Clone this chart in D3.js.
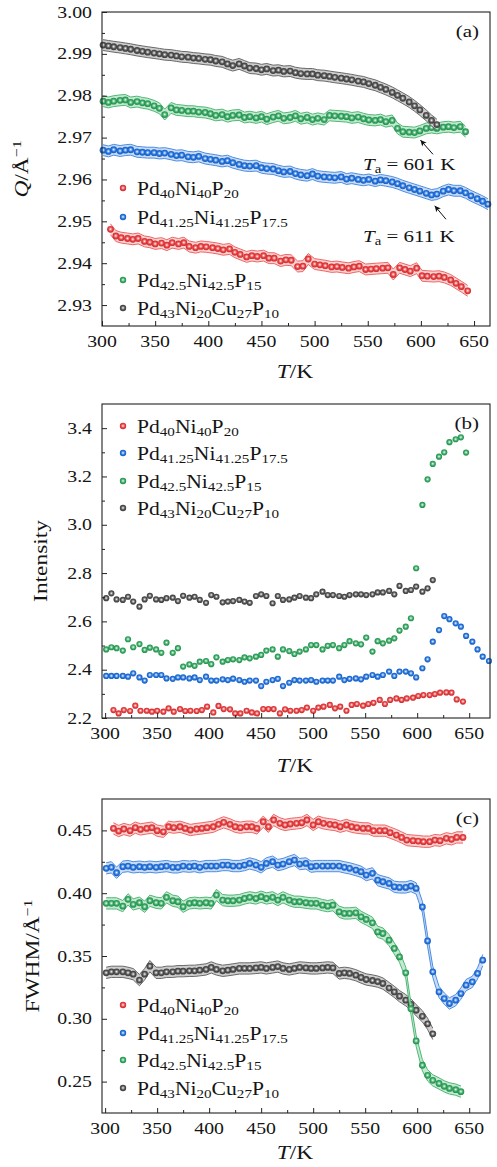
<!DOCTYPE html>
<html>
<head>
<meta charset="utf-8">
<script src="https://cdnjs.cloudflare.com/ajax/libs/d3/7.8.5/d3.min.js"></script>
<style>
  body { margin: 0; background: #fff; }
  text { font-family: "Liberation Serif", "Times New Roman", serif; fill: #141414; }
</style>
</head>
<body>
<div id="chart"></div>
<script>
// temperature grids (K): one shared grid for three alloys, one for Pd40Ni40P20
var temps = [301, 306, 311, 317, 322, 327, 333, 338, 343, 349, 354, 359, 365, 370, 375, 381, 386, 391, 397, 402,
  407, 413, 418, 423, 429, 434, 439, 445, 450, 455, 461, 466, 471, 477, 482, 487, 493, 498, 503, 509,
  514, 519, 525, 530, 535, 541, 546, 551, 557, 562, 567, 573, 578, 583, 589, 594, 599, 605, 610, 615,
  621, 626, 631, 637, 642, 647, 653, 658, 663, 669];
var tempsRed = [308, 313, 318, 324, 329, 334, 340, 345, 350, 356, 361, 366, 372, 377, 382, 388, 393, 398, 404, 409,
  414, 420, 425, 430, 436, 441, 446, 452, 457, 462, 468, 473, 478, 484, 489, 494, 500, 505, 510, 516,
  521, 526, 532, 537, 542, 548, 553, 558, 564, 569, 574, 580, 585, 590, 596, 601, 606, 612, 617, 622,
  628, 633, 638, 644];

// (a) peak position Q
var qRed = [2.9481, 2.9465, 2.9461, 2.9459, 2.9457, 2.9459, 2.9452, 2.9450, 2.9446, 2.9448,
  2.9443, 2.9449, 2.9446, 2.9449, 2.9440, 2.9437, 2.9440, 2.9439, 2.9437, 2.9435,
  2.9432, 2.9434, 2.9426, 2.9421, 2.9415, 2.9418, 2.9416, 2.9418, 2.9412, 2.9412,
  2.9405, 2.9408, 2.9407, 2.9392, 2.9393, 2.9410, 2.9398, 2.9396, 2.9394, 2.9391,
  2.9392, 2.9390, 2.9388, 2.9391, 2.9393, 2.9385, 2.9386, 2.9387, 2.9388, 2.9389,
  2.9373, 2.9389, 2.9385, 2.9381, 2.9388, 2.9370, 2.9369, 2.9368, 2.9369, 2.9366,
  2.9360, 2.9352, 2.9344, 2.9334];
var qBlue = [2.9670, 2.9667, 2.9671, 2.9668, 2.9670, 2.9671, 2.9666, 2.9665, 2.9664, 2.9664,
  2.9662, 2.9663, 2.9660, 2.9657, 2.9658, 2.9654, 2.9653, 2.9655, 2.9650, 2.9648,
  2.9646, 2.9643, 2.9645, 2.9640, 2.9636, 2.9633, 2.9632, 2.9633, 2.9628, 2.9626,
  2.9625, 2.9621, 2.9618, 2.9619, 2.9614, 2.9611, 2.9609, 2.9613, 2.9608, 2.9606,
  2.9605, 2.9604, 2.9606, 2.9601, 2.9603, 2.9600, 2.9598, 2.9600, 2.9596, 2.9599,
  2.9597, 2.9594, 2.9590, 2.9585, 2.9580, 2.9576, 2.9572, 2.9567, 2.9563, 2.9565,
  2.9572, 2.9576, 2.9573, 2.9573, 2.9568, 2.9561, 2.9554, 2.9548, 2.9541];
var qGreen = [2.9787, 2.9784, 2.9787, 2.9789, 2.9790, 2.9784, 2.9786, 2.9783, 2.9781, 2.9776,
  2.9770, 2.9755, 2.9771, 2.9766, 2.9765, 2.9763, 2.9763, 2.9761, 2.9760, 2.9757,
  2.9753, 2.9755, 2.9750, 2.9753, 2.9754, 2.9748, 2.9750, 2.9747, 2.9750, 2.9744,
  2.9749, 2.9752, 2.9746, 2.9748, 2.9752, 2.9745, 2.9748, 2.9743, 2.9746, 2.9743,
  2.9753, 2.9752, 2.9751, 2.9750, 2.9747, 2.9749, 2.9745, 2.9742, 2.9741, 2.9743,
  2.9738, 2.9741, 2.9722, 2.9714, 2.9713, 2.9712, 2.9716, 2.9722, 2.9724, 2.9722,
  2.9725, 2.9726, 2.9724, 2.9726, 2.9714];
var qGray = [2.9921, 2.9919, 2.9917, 2.9915, 2.9913, 2.9911, 2.9908, 2.9906, 2.9904, 2.9902,
  2.9900, 2.9898, 2.9897, 2.9895, 2.9893, 2.9892, 2.9890, 2.9889, 2.9887, 2.9886,
  2.9883, 2.9881, 2.9876, 2.9872, 2.9876, 2.9871, 2.9866, 2.9865, 2.9862, 2.9864,
  2.9860, 2.9861, 2.9858, 2.9859, 2.9855, 2.9853, 2.9852, 2.9852, 2.9849, 2.9848,
  2.9846, 2.9844, 2.9842, 2.9840, 2.9838, 2.9835, 2.9833, 2.9829, 2.9825, 2.9820,
  2.9815, 2.9808, 2.9801, 2.9794, 2.9785, 2.9776, 2.9766, 2.9753, 2.9741, 2.9731];

// (b) peak intensity
var intRed = [2.233, 2.219, 2.233, 2.229, 2.251, 2.230, 2.230, 2.226, 2.230, 2.226,
  2.240, 2.226, 2.237, 2.229, 2.230, 2.229, 2.233, 2.247, 2.223, 2.250,
  2.237, 2.236, 2.219, 2.219, 2.230, 2.223, 2.219, 2.237, 2.237, 2.237,
  2.219, 2.236, 2.230, 2.230, 2.233, 2.243, 2.230, 2.243, 2.247, 2.254,
  2.240, 2.247, 2.230, 2.254, 2.258, 2.251, 2.258, 2.263, 2.275, 2.258,
  2.275, 2.281, 2.275, 2.281, 2.284, 2.291, 2.295, 2.295, 2.299, 2.305,
  2.306, 2.305, 2.277, 2.268];
var intBlue = [2.374, 2.374, 2.374, 2.374, 2.371, 2.385, 2.368, 2.355, 2.378, 2.378,
  2.378, 2.364, 2.362, 2.368, 2.368, 2.364, 2.368, 2.357, 2.371, 2.355,
  2.355, 2.360, 2.357, 2.363, 2.357, 2.350, 2.355, 2.355, 2.332, 2.350,
  2.357, 2.362, 2.332, 2.346, 2.357, 2.355, 2.355, 2.357, 2.350, 2.355,
  2.355, 2.355, 2.371, 2.357, 2.362, 2.364, 2.360, 2.371, 2.378, 2.371,
  2.378, 2.392, 2.374, 2.392, 2.392, 2.385, 2.368, 2.406, 2.443, 2.516,
  2.564, 2.622, 2.609, 2.592, 2.578, 2.540, 2.516, 2.484, 2.454, 2.436];
var intGreen = [2.484, 2.493, 2.489, 2.479, 2.526, 2.493, 2.506, 2.482, 2.491, 2.484,
  2.470, 2.512, 2.470, 2.489, 2.413, 2.422, 2.416, 2.433, 2.436, 2.423,
  2.451, 2.433, 2.440, 2.443, 2.440, 2.451, 2.447, 2.454, 2.461, 2.479,
  2.484, 2.454, 2.484, 2.477, 2.465, 2.475, 2.484, 2.502, 2.502, 2.484,
  2.499, 2.502, 2.489, 2.502, 2.518, 2.509, 2.505, 2.533, 2.475, 2.518,
  2.509, 2.520, 2.530, 2.562, 2.578, 2.613, 2.820, 3.082, 3.188, 3.252,
  3.282, 3.300, 3.342, 3.354, 3.362, 3.299];
var intGray = [2.696, 2.716, 2.691, 2.689, 2.702, 2.682, 2.661, 2.691, 2.706, 2.691,
  2.689, 2.696, 2.698, 2.684, 2.706, 2.698, 2.702, 2.689, 2.677, 2.709,
  2.702, 2.679, 2.682, 2.684, 2.689, 2.682, 2.677, 2.705, 2.712, 2.705,
  2.675, 2.705, 2.689, 2.691, 2.698, 2.705, 2.698, 2.696, 2.712, 2.723,
  2.709, 2.709, 2.705, 2.702, 2.709, 2.712, 2.712, 2.709, 2.712, 2.720,
  2.720, 2.726, 2.712, 2.747, 2.726, 2.730, 2.744, 2.723, 2.737, 2.771];

// (c) FWHM
var fwRed = [0.4516, 0.4495, 0.4511, 0.4498, 0.4522, 0.4508, 0.4516, 0.4522, 0.4498, 0.4489,
  0.4529, 0.4522, 0.4529, 0.4516, 0.4503, 0.4511, 0.4516, 0.4522, 0.4529, 0.4548,
  0.4564, 0.4548, 0.4529, 0.4522, 0.4529, 0.4529, 0.4516, 0.4569, 0.4529, 0.4583,
  0.4556, 0.4543, 0.4551, 0.4556, 0.4561, 0.4583, 0.4543, 0.4569, 0.4556, 0.4548,
  0.4543, 0.4529, 0.4543, 0.4529, 0.4522, 0.4516, 0.4516, 0.4498, 0.4498, 0.4498,
  0.4482, 0.4463, 0.4444, 0.4423, 0.4418, 0.4415, 0.4410, 0.4410, 0.4423, 0.4418,
  0.4437, 0.4429, 0.4444, 0.4444];
var fwBlue = [0.4198, 0.4206, 0.4163, 0.4211, 0.4216, 0.4206, 0.4211, 0.4206, 0.4211, 0.4206,
  0.4211, 0.4216, 0.4206, 0.4206, 0.4216, 0.4211, 0.4216, 0.4206, 0.4216, 0.4216,
  0.4216, 0.4224, 0.4224, 0.4216, 0.4216, 0.4224, 0.4237, 0.4224, 0.4206, 0.4237,
  0.4251, 0.4224, 0.4232, 0.4251, 0.4264, 0.4232, 0.4237, 0.4211, 0.4216, 0.4216,
  0.4216, 0.4216, 0.4216, 0.4206, 0.4198, 0.4184, 0.4171, 0.4144, 0.4158, 0.4104,
  0.4091, 0.4078, 0.4051, 0.4046, 0.4046, 0.4057, 0.4038, 0.3890, 0.3620, 0.3374,
  0.3214, 0.3161, 0.3122, 0.3148, 0.3201, 0.3268, 0.3294, 0.3361, 0.3467];
var fwGreen = [0.3919, 0.3919, 0.3919, 0.3897, 0.3951, 0.3911, 0.3924, 0.3892, 0.3940, 0.3924,
  0.3919, 0.3967, 0.3940, 0.3932, 0.3892, 0.3919, 0.3924, 0.3919, 0.3924, 0.3919,
  0.3985, 0.3945, 0.3940, 0.3940, 0.3945, 0.3958, 0.3967, 0.3958, 0.3972, 0.3958,
  0.3967, 0.3945, 0.3967, 0.3945, 0.3932, 0.3932, 0.3924, 0.3919, 0.3919, 0.3905,
  0.3897, 0.3905, 0.3852, 0.3839, 0.3839, 0.3844, 0.3812, 0.3791, 0.3764, 0.3692,
  0.3679, 0.3626, 0.3560, 0.3493, 0.3366, 0.3080, 0.2824, 0.2630, 0.2550, 0.2510,
  0.2485, 0.2462, 0.2446, 0.2436, 0.2420];
var fwGray = [0.3366, 0.3374, 0.3374, 0.3374, 0.3366, 0.3355, 0.3308, 0.3355, 0.3419, 0.3366,
  0.3366, 0.3374, 0.3374, 0.3379, 0.3379, 0.3382, 0.3382, 0.3387, 0.3393, 0.3409,
  0.3393, 0.3382, 0.3387, 0.3393, 0.3401, 0.3401, 0.3401, 0.3405, 0.3409, 0.3401,
  0.3409, 0.3416, 0.3401, 0.3393, 0.3401, 0.3409, 0.3405, 0.3401, 0.3401, 0.3405,
  0.3409, 0.3405, 0.3361, 0.3366, 0.3361, 0.3347, 0.3329, 0.3313, 0.3305, 0.3296,
  0.3281, 0.3245, 0.3214, 0.3180, 0.3148, 0.3114, 0.3068, 0.3020, 0.2960, 0.2880];

// ticks
var xTicks = [300, 350, 400, 450, 500, 550, 600, 650];
var xMinor = [325, 375, 425, 475, 525, 575, 625];
var yTicksA = [2.93, 2.94, 2.95, 2.96, 2.97, 2.98, 2.99, 3.00];
var yTicksB = [2.2, 2.4, 2.6, 2.8, 3.0, 3.2, 3.4];
var yTicksC = [0.25, 0.30, 0.35, 0.40, 0.45];

// legend names: [text, "sub"] pieces
var names = {
  red:   [["Pd"], ["40", "sub"], ["Ni"], ["40", "sub"], ["P"], ["20", "sub"]],
  blue:  [["Pd"], ["41.25", "sub"], ["Ni"], ["41.25", "sub"], ["P"], ["17.5", "sub"]],
  green: [["Pd"], ["42.5", "sub"], ["Ni"], ["42.5", "sub"], ["P"], ["15", "sub"]],
  gray:  [["Pd"], ["43", "sub"], ["Ni"], ["20", "sub"], ["Cu"], ["27", "sub"], ["P"], ["10", "sub"]]
};
var legendOrder = ["red", "blue", "green", "gray"];

var width = 497, height = 1167;
var left = 102, right = 490;
var sx = 1.2;   // the figure's text is wider than Times, stretch it a bit

var colors   = { red: "#e8393b", blue: "#1e6fdc", green: "#2ea55c", gray: "#4c4c4c" };
var bandFill = { red: "#fbd2d1", blue: "#c9dbf6", green: "#c4e9d1", gray: "#cdcdcd" };
var bandLine = { red: "#ee5656", blue: "#3a82e0", green: "#3fb068", gray: "#5a5a5a" };

var svg = d3.select("#chart").append("svg")
  .attr("width", width)
  .attr("height", height);
var defs = svg.append("defs");

Object.keys(colors).forEach(function(k) {
  var c = colors[k];
  var grad = defs.append("radialGradient").attr("id", "dot-" + k)
    .attr("cx", "50%").attr("cy", "48%").attr("r", "55%");
  grad.append("stop").attr("offset", "0%").attr("stop-color", "#ffffff");
  grad.append("stop").attr("offset", "28%").attr("stop-color", d3.interpolateRgb("#ffffff", c)(0.55));
  grad.append("stop").attr("offset", "60%").attr("stop-color", c);
  grad.append("stop").attr("offset", "100%").attr("stop-color", d3.color(c).darker(0.5));
});

defs.append("marker").attr("id", "arrow")
  .attr("viewBox", "0 0 10 10").attr("refX", 10).attr("refY", 5)
  .attr("markerWidth", 7).attr("markerHeight", 6)
  .attr("markerUnits", "userSpaceOnUse").attr("orient", "auto")
  .append("path").attr("d", "M0,0 L10,5 L0,10 L2.5,5 z").attr("fill", "#111");

// text with a horizontal stretch; rot rotates it to run upward
function label(g, x, y, anchor, size, rot) {
  return g.append("text")
    .attr("transform", "translate(" + x + "," + y + ")" + (rot ? " rotate(-90)" : "") + " scale(" + sx + ",1)")
    .attr("text-anchor", anchor)
    .style("font-size", size + "px");
}

function rich(t, parts, size) {
  var shift = 0;
  parts.forEach(function(p) {
    var target = 0, fs = size;
    if (p[1] === "sub") { target = size * 0.2; fs = size * 0.7; }
    if (p[1] === "sup") { target = -size * 0.38; fs = size * 0.68; }
    var s = t.append("tspan").text(p[0]).style("font-size", fs + "px").attr("dy", target - shift);
    if (p[2] === "i") s.style("font-style", "italic");
    shift = target;
  });
  return t;
}

function panel(cfg) {
  var x = d3.scaleLinear().domain(cfg.xDomain).range([left, right]);
  var y = d3.scaleLinear().domain(cfg.yDomain).range([cfg.bottom, cfg.top]);
  var g = svg.append("g");

  cfg.series.forEach(function(s) {
    var pts = s.values.map(function(v, i) { return { t: s.temps[i], v: v }; });
    if (cfg.band) {
      var b = cfg.band;
      var area = d3.area()
        .x(function(d) { return x(d.t); })
        .y0(function(d) { return y(d.v - b); })
        .y1(function(d) { return y(d.v + b); });
      g.append("path").datum(pts).attr("d", area)
        .attr("fill", bandFill[s.key]).attr("stroke", "none");
      [b, -b].forEach(function(off) {
        var edge = d3.line()
          .x(function(d) { return x(d.t); })
          .y(function(d) { return y(d.v + off); });
        g.append("path").datum(pts).attr("d", edge)
          .attr("fill", "none").attr("stroke", bandLine[s.key]).attr("stroke-width", 0.9);
      });
    }
    g.selectAll(null).data(pts).enter().append("circle")
      .attr("cx", function(d) { return x(d.t); })
      .attr("cy", function(d) { return y(d.v); })
      .attr("r", cfg.r)
      .attr("fill", "url(#dot-" + s.key + ")");
  });

  // frame
  g.append("rect")
    .attr("x", left).attr("y", cfg.top)
    .attr("width", right - left).attr("height", cfg.bottom - cfg.top)
    .attr("fill", "none").attr("stroke", "#222").attr("stroke-width", 1.1);

  // inward ticks
  function ticks(axis, tr) {
    var a = g.append("g").attr("transform", tr).call(axis.tickSizeOuter(0).tickFormat(""));
    a.select(".domain").remove();
    a.selectAll("line").attr("stroke", "#222");
  }
  ticks(d3.axisBottom(x).tickValues(xTicks).tickSizeInner(-5), "translate(0," + cfg.bottom + ")");
  ticks(d3.axisBottom(x).tickValues(xMinor).tickSizeInner(-3), "translate(0," + cfg.bottom + ")");
  ticks(d3.axisLeft(y).tickValues(cfg.yTicks).tickSizeInner(-5), "translate(" + left + ",0)");
  ticks(d3.axisLeft(y).tickValues(cfg.yMinor).tickSizeInner(-3), "translate(" + left + ",0)");

  var fmt = d3.format(cfg.fmt);
  xTicks.forEach(function(t) {
    label(g, x(t), cfg.bottom + 21, "middle", 16.5).text(t);
  });
  cfg.yTicks.forEach(function(t) {
    label(g, 92, y(t) + 5.5, "end", 16.5).text(fmt(t));
  });

  // axis titles
  rich(label(g, (left + right) / 2 - 1, cfg.bottom + cfg.xTitleGap, "middle", 19.5),
    [["T", "", "i"], ["/K"]], 19.5);
  rich(label(g, cfg.yTitleX, (cfg.top + cfg.bottom) / 2, "middle", 19.5, true), cfg.yTitle, 19.5);

  // panel letter
  label(g, 479, cfg.letterY, "end", 17.5).text(cfg.letter);

  // legend
  cfg.legendY.forEach(function(ly, i) {
    var k = legendOrder[i];
    g.append("circle").attr("cx", 123).attr("cy", ly).attr("r", 3.2).attr("fill", "url(#dot-" + k + ")");
    rich(label(g, 137, ly + 6.5, "start", 18), names[k], 18);
  });

  return { x: x, y: y, g: g };
}

var pa = panel({
  top: 12, bottom: 326, xDomain: [300, 665], yDomain: [2.925, 3.0],
  yTicks: yTicksA, yMinor: [2.935, 2.945, 2.955, 2.965, 2.975, 2.985, 2.995], fmt: ".2f",
  band: 0.0013, r: 3.4,
  series: [
    { key: "red", temps: tempsRed, values: qRed },
    { key: "blue", temps: temps, values: qBlue },
    { key: "green", temps: temps, values: qGreen },
    { key: "gray", temps: temps, values: qGray }
  ],
  xTitleGap: 52, yTitleX: 28,
  yTitle: [["Q", "", "i"], ["/Å"], ["−1", "sup"]],
  letter: "(a)", letterY: 37,
  legendY: [188, 217, 280, 308]
});

// T_a annotations in panel (a), placed in data units
var annotations = [
  { label: "601", textT: 545.5, textQ: 2.9623, tipT: 599.6, tipQ: 2.9694, tailT: 611.4, tailQ: 2.9660 },
  { label: "611", textT: 545.5, textQ: 2.9451, tipT: 613.0, tipQ: 2.9537, tailT: 623.6, tailQ: 2.9505 }
];
annotations.forEach(function(a) {
  pa.g.append("line")
    .attr("x1", pa.x(a.tailT)).attr("y1", pa.y(a.tailQ))
    .attr("x2", pa.x(a.tipT)).attr("y2", pa.y(a.tipQ))
    .attr("stroke", "#111").attr("stroke-width", 1)
    .attr("marker-end", "url(#arrow)");
  rich(label(pa.g, pa.x(a.textT), pa.y(a.textQ), "start", 17.5),
    [["T", "", "i"], ["a", "sub"], [" = " + a.label + " K"]], 17.5);
});

panel({
  top: 404, bottom: 718, xDomain: [297, 670], yDomain: [2.2, 3.5],
  yTicks: yTicksB, yMinor: [2.3, 2.5, 2.7, 2.9, 3.1, 3.3], fmt: ".1f",
  band: 0, r: 3.1,
  series: [
    { key: "red", temps: tempsRed, values: intRed },
    { key: "blue", temps: temps, values: intBlue },
    { key: "green", temps: temps, values: intGreen },
    { key: "gray", temps: temps, values: intGray }
  ],
  xTitleGap: 54, yTitleX: 47,
  yTitle: [["Intensity"]],
  letter: "(b)", letterY: 429,
  legendY: [426, 453, 481, 508]
});

panel({
  top: 799, bottom: 1113, xDomain: [297, 670], yDomain: [0.225, 0.475],
  yTicks: yTicksC, yMinor: [0.275, 0.325, 0.375, 0.425], fmt: ".2f",
  band: 0.0045, r: 3.4,
  series: [
    { key: "red", temps: tempsRed, values: fwRed },
    { key: "blue", temps: temps, values: fwBlue },
    { key: "gray", temps: temps, values: fwGray },
    { key: "green", temps: temps, values: fwGreen }
  ],
  xTitleGap: 46, yTitleX: 39,
  yTitle: [["FWHM/Å"], ["−1", "sup"]],
  letter: "(c)", letterY: 824,
  legendY: [1005, 1033, 1060, 1088]
});
</script>
</body>
</html>
